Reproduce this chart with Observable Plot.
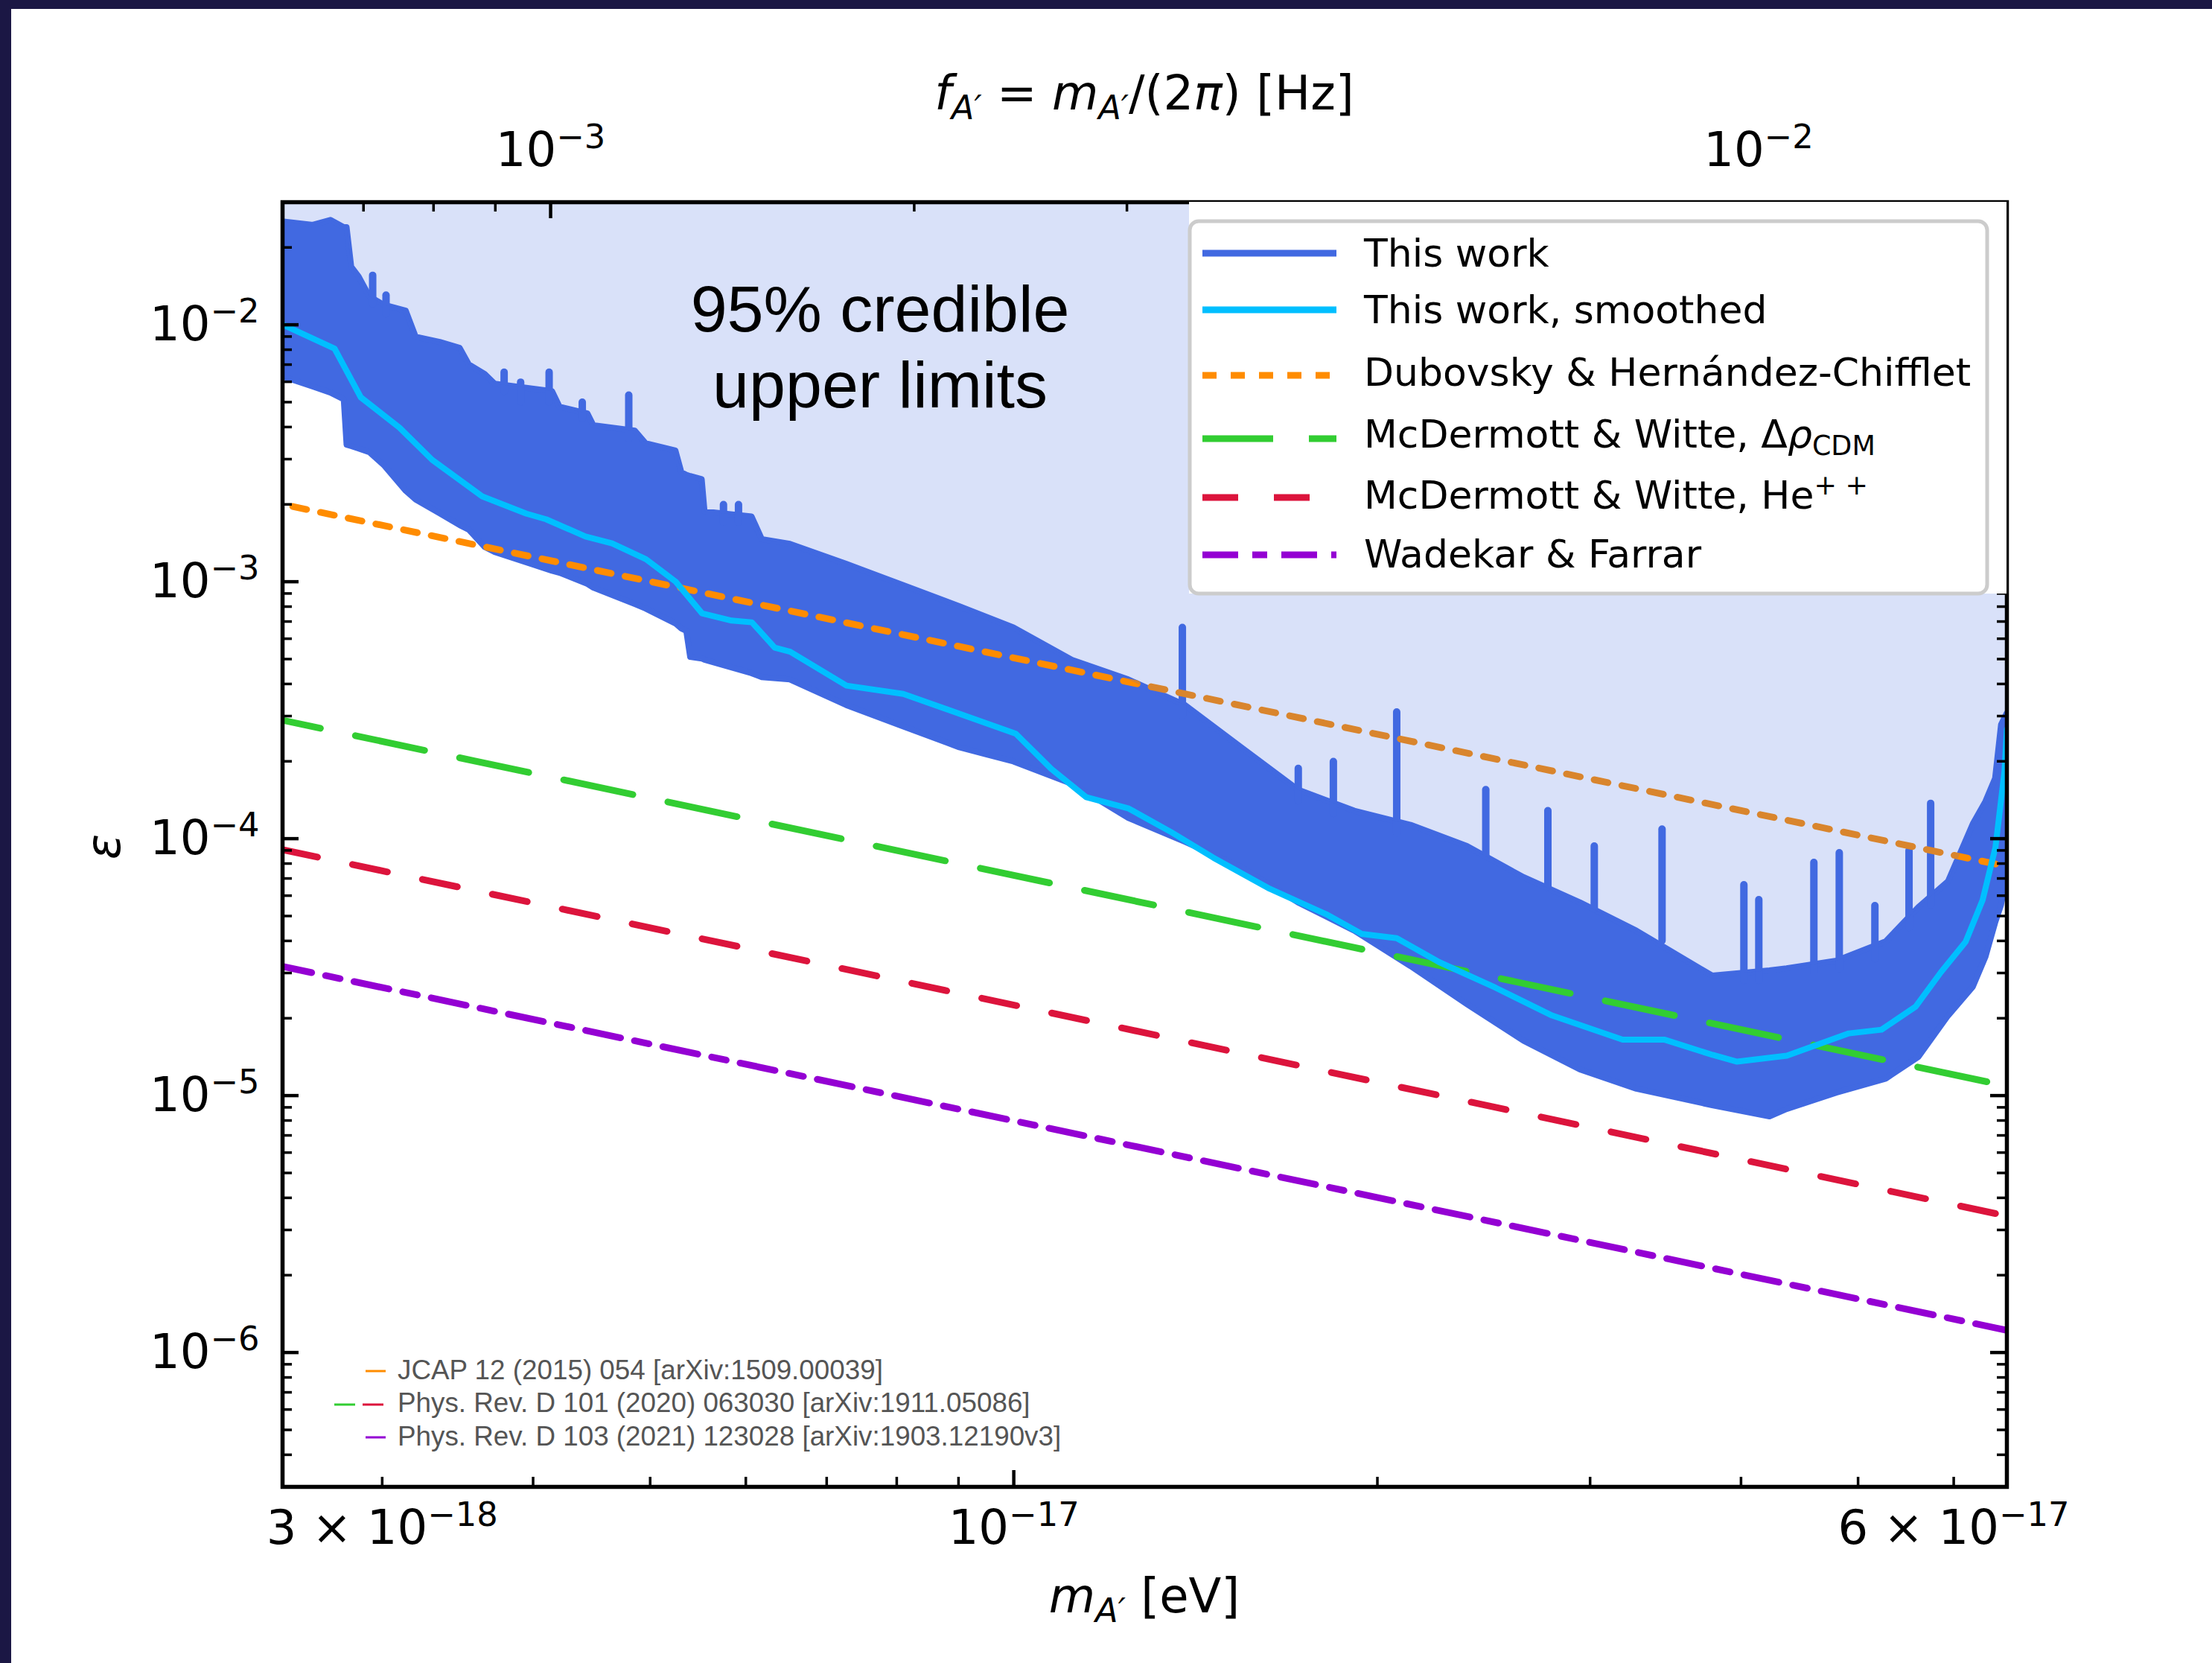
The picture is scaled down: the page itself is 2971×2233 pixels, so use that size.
<!DOCTYPE html>
<html><head><meta charset="utf-8">
<script src="https://cdn.jsdelivr.net/npm/d3@7"></script>
<script src="https://cdn.jsdelivr.net/npm/@observablehq/plot@0.6"></script>
<style>
html,body{margin:0;padding:0;background:#fff;overflow:hidden;}
#page{position:relative;width:2971px;height:2233px;overflow:hidden;background:#fff;}
#chart{position:absolute;left:0;top:0;width:2971px;height:2233px;}
#bt{position:absolute;left:0;top:0;width:2971px;height:12px;background:#1b1744;}
#bl{position:absolute;left:0;top:0;width:15px;height:2233px;background:#1b1744;}
</style></head><body>
<div id="page"><div id="chart"></div><div id="bt"></div><div id="bl"></div></div>
<script>
// ---------- data ----------
const h = 4.135667e-15; // eV·s : m = h·f
const xDomain = [2.481e-18, 6.64e-17];
const yDomain = [3e-7, 3e-2];

// "This work" band: envelope of the noisy limit curve
const bandMass = [2.48e-18, 2.63e-18, 2.72e-18, 2.79e-18, 2.805e-18, 2.83e-18, 2.87e-18, 2.93e-18, 3.01e-18, 3.14e-18,
  3.20e-18, 3.35e-18, 3.48e-18, 3.54e-18, 3.65e-18, 3.72e-18, 4.15e-18, 4.21e-18, 4.44e-18, 4.49e-18,
  4.86e-18, 4.96e-18, 5.25e-18, 5.31e-18, 5.36e-18, 5.40e-18, 5.52e-18, 5.55e-18, 6.07e-18, 6.19e-18,
  6.53e-18, 7.27e-18, 8.10e-18, 9.02e-18, 1.0e-17, 1.118e-17, 1.245e-17, 1.387e-17, 1.544e-17, 1.72e-17,
  1.915e-17, 2.132e-17, 2.374e-17, 2.644e-17, 2.944e-17, 3.279e-17, 3.789e-17, 4.226e-17, 4.366e-17, 4.8e-17,
  5.274e-17, 5.613e-17, 5.94e-17, 6.226e-17, 6.378e-17, 6.497e-17, 6.571e-17, 6.64e-17];
const bandUpper = [0.0252, 0.0244, 0.0255, 0.0239, 0.0239, 0.01677, 0.01538, 0.01285, 0.01193, 0.01131,
  0.00896, 0.00855, 0.0081, 0.0070, 0.00641, 0.00588, 0.0055, 0.00478, 0.0045, 0.00405,
  0.00386, 0.00345, 0.00323, 0.00266, 0.0026, 0.00257, 0.0025, 0.00187, 0.00179, 0.00146,
  0.0014, 0.00117, 0.000968, 0.0008, 0.000662, 0.000495, 0.000415, 0.00033, 0.000226, 0.0001547,
  0.000128, 0.0001128, 9.33e-5, 7.06e-5, 5.63e-5, 4.37e-5, 2.92e-5, 3.06e-5, 3.12e-5, 3.34e-5,
  3.97e-5, 5.4e-5, 6.81e-5, 1.138e-4, 1.391e-4, 1.711e-4, 2.767e-4, 3.06e-4];
const bandLower = [0.00629, 0.00573, 0.00543, 0.00511, 0.0034, 0.00336, 0.00329, 0.00318, 0.00284, 0.00225,
  0.00208, 0.00184, 0.001655, 0.00159, 0.00136, 0.0013, 0.0011, 0.00108, 0.000977, 0.000945,
  0.000816, 0.000784, 0.000686, 0.000655, 0.000641, 0.000508, 0.000501, 0.000495, 0.000439, 0.000424,
  0.000415, 0.00033, 0.000273, 0.000226, 0.000199, 0.000163, 0.00012, 9.69e-5, 7.72e-5, 5.63e-5,
  4.37e-5, 3.18e-5, 2.26e-5, 1.63e-5, 1.26e-5, 1.06e-5, 9.14e-6, 8.27e-6, 8.84e-6, 1.023e-5,
  1.16e-5, 1.41e-5, 2.04e-5, 2.64e-5, 3.45e-5, 4.69e-5, 5.5e-5, 7.0e-5];

// narrow spikes of the limit curve
const spikeMass = [2.946e-18, 3.022e-18, 3.785e-18, 3.906e-18, 4.124e-18, 4.393e-18, 4.8e-18, 5.75e-18, 5.917e-18,
  1.379e-17, 1.72e-17, 1.839e-17, 2.075e-17, 2.459e-17, 2.768e-17, 3.024e-17, 3.441e-17,
  4.022e-17, 4.138e-17, 4.596e-17, 4.824e-17, 5.163e-17, 5.51e-17, 5.742e-17];
const spikeTip = [0.01553, 0.013, 0.00652, 0.00596, 0.00652, 0.00498, 0.00531, 0.00199, 0.00199,
  6.62e-4, 1.87e-4, 1.99e-4, 3.1e-4, 1.547e-4, 1.28e-4, 9.33e-5, 1.086e-4,
  6.59e-5, 5.77e-5, 8.05e-5, 8.78e-5, 5.47e-5, 8.96e-5, 1.368e-4];
const spikeBase = [0.012, 0.011, 0.0055, 0.005, 0.005, 0.0043, 0.0036, 0.0017, 0.0017,
  3.0e-4, 1.4e-4, 1.25e-4, 1.05e-4, 8.5e-5, 6.5e-5, 5.3e-5, 4.0e-5,
  2.8e-5, 2.8e-5, 3e-5, 3.1e-5, 3.4e-5, 4.5e-5, 5.5e-5];

// "This work, smoothed"
const smoothMass = [2.48e-18, 2.74e-18, 2.88e-18, 3.10e-18, 3.30e-18, 3.63e-18, 3.95e-18, 4.10e-18, 4.42e-18, 4.65e-18,
  4.96e-18, 5.25e-18, 5.52e-18, 5.84e-18, 6.07e-18, 6.34e-18, 6.53e-18, 7.27e-18, 8.10e-18, 9.02e-18,
  1.004e-17, 1.074e-17, 1.148e-17, 1.245e-17, 1.35e-17, 1.463e-17, 1.629e-17, 1.814e-17, 1.941e-17, 2.075e-17,
  2.249e-17, 2.505e-17, 2.79e-17, 3.192e-17, 3.459e-17, 3.789e-17, 3.97e-17, 4.366e-17, 4.913e-17, 5.228e-17,
  5.58e-17, 5.855e-17, 6.138e-17, 6.34e-17, 6.497e-17, 6.61e-17, 6.64e-17];
const smoothEps = [0.01003, 0.00807, 0.00522, 0.00398, 0.00298, 0.00215, 0.00184, 0.00175, 0.0015, 0.00141,
  0.001224, 0.001, 0.000753, 0.000706, 0.000695, 0.000554, 0.000534, 0.000394, 0.000366, 0.000306,
  0.000256, 0.000187, 0.000145, 0.000131, 0.000106, 8.43e-5, 6.38e-5, 5.08e-5, 4.26e-5, 4.1e-5,
  3.31e-5, 2.63e-5, 2.05e-5, 1.65e-5, 1.65e-5, 1.44e-5, 1.355e-5, 1.43e-5, 1.746e-5, 1.805e-5,
  2.22e-5, 3.02e-5, 3.97e-5, 5.77e-5, 9.26e-5, 1.83e-4, 2.66e-4];

// earlier bounds (power laws, endpoints at the frame edges)
const refMass = [2.481e-18, 6.64e-17];
const dubovskyEps = [2.0e-3, 7.8e-5];
const mcdRhoEps = [2.89e-4, 1.09e-5];
const mcdHeEps = [9.06e-5, 3.4e-6];
const wadekarEps = [3.18e-5, 1.22e-6];

// axis ticks
const topMajorHz = [1e-3, 1e-2];
const topMinorHz = [7e-4, 8e-4, 9e-4, 2e-3, 3e-3, 4e-3, 5e-3, 6e-3, 7e-3, 8e-3, 9e-3];
const topLabels = ["10^{−3}", "10^{−2}"];
const bottomMajor = [1e-17];
const bottomMinor = [3e-18, 4e-18, 5e-18, 6e-18, 7e-18, 8e-18, 9e-18, 2e-17, 3e-17, 4e-17, 5e-17, 6e-17];
const bottomLabelTicks = [3e-18, 1e-17, 6e-17];
const bottomLabels = ["3 × 10^{−18}", "10^{−17}", "6 × 10^{−17}"];
const yMajor = [1e-6, 1e-5, 1e-4, 1e-3, 1e-2];
const yLabels = ["10^{−6}", "10^{−5}", "10^{−4}", "10^{−3}", "10^{−2}"];
const yMinor = [4e-7, 5e-7, 6e-7, 7e-7, 8e-7, 9e-7,
  2e-6, 3e-6, 4e-6, 5e-6, 6e-6, 7e-6, 8e-6, 9e-6,
  2e-5, 3e-5, 4e-5, 5e-5, 6e-5, 7e-5, 8e-5, 9e-5,
  2e-4, 3e-4, 4e-4, 5e-4, 6e-4, 7e-4, 8e-4, 9e-4,
  2e-3, 3e-3, 4e-3, 5e-3, 6e-3, 7e-3, 8e-3, 9e-3, 2e-2];

const legendLabels = ["This work", "This work, smoothed", "Dubovsky & Hernández-Chifflet",
  "McDermott & Witte, Δρ_CDM", "McDermott & Witte, He^++", "Wadekar & Farrar"];
const noteLines = ["JCAP 12 (2015) 054 [arXiv:1509.00039]", "Phys. Rev. D 101 (2020) 063030 [arXiv:1911.05086]",
  "Phys. Rev. D 103 (2021) 123028 [arXiv:1903.12190v3]"];

(function () {
// ---------- tables ----------
const band = bandMass.map((m, i) => ({m, lo: bandLower[i], hi: bandUpper[i]}));
const spikes = spikeMass.map((m, i) => ({m, tip: spikeTip[i], base: spikeBase[i]}));
const smooth = smoothMass.map((m, i) => ({m, e: smoothEps[i]}));
const refs = refMass.map((m, i) => ({m, dub: dubovskyEps[i], rho: mcdRhoEps[i], he: mcdHeEps[i], wf: wadekarEps[i]}));
const topMajorM = topMajorHz.map(f => f * h);
const topMinorM = topMinorHz.map(f => f * h);

const BLUE = "#4169e1", CYAN = "#00bfff", ORANGE = "#ff8c00", GREEN = "#32cd32", RED = "#dc143c", PURPLE = "#9400d3";
const W = 2971, H = 2233, ML = 379, MR = 276, MT = 271, MB = 237;
const FW = W - ML - MR, FH = H - MT - MB;

const chart = Plot.plot({
  width: W, height: H, marginLeft: ML, marginRight: MR, marginTop: MT, marginBottom: MB,
  x: {type: "log", domain: xDomain},
  y: {type: "log", domain: yDomain},
  style: {fontFamily: "DejaVu Sans", fontSize: "64px", color: "#000", background: "transparent", overflow: "visible"},
  marks: [
    Plot.areaY(band, {x: "m", y1: "lo", y2: "hi", fill: BLUE, stroke: BLUE, strokeWidth: 8, strokeLinejoin: "round", clip: true}),
    Plot.ruleX(spikes, {x: "m", y1: "base", y2: "tip", stroke: BLUE, strokeWidth: 10, strokeLinecap: "round", clip: true}),
    Plot.line(refs, {x: "m", y: "dub", stroke: ORANGE, strokeWidth: 9, strokeDasharray: "19,19", strokeDashoffset: 24, clip: true}),
    Plot.areaY(band, {x: "m", y1: "hi", y2: yDomain[1], fill: BLUE, fillOpacity: 0.2, clip: true}),
    Plot.line(refs, {x: "m", y: "rho", stroke: GREEN, strokeWidth: 9, strokeDasharray: "95,48", strokeDashoffset: 43, clip: true}),
    Plot.line(refs, {x: "m", y: "he", stroke: RED, strokeWidth: 9, strokeDasharray: "48,48", clip: true}),
    Plot.line(refs, {x: "m", y: "wf", stroke: PURPLE, strokeWidth: 9, strokeDasharray: "48,19,20,19", strokeDashoffset: 8, clip: true}),
    Plot.line(smooth, {x: "m", y: "e", stroke: CYAN, strokeWidth: 8, strokeLinejoin: "round", clip: true}),
    Plot.text([{m: 7.75e-18, e: 0.00832}], {x: "m", y: "e", text: () => "95% credible\nupper limits",
      fontFamily: "Liberation Sans, Arial, sans-serif", fontSize: 88, lineHeight: 1.16, textAnchor: "middle", fill: "#000"}),
    // inward ticks
    Plot.tickX(bottomMinor, {x: d => d, insetTop: FH - 13, stroke: "#000", strokeWidth: 3.5, ariaLabel: "ticks-anchor"}),
    Plot.tickX(bottomMajor, {x: d => d, insetTop: FH - 22, stroke: "#000", strokeWidth: 4.5}),
    Plot.tickX(topMinorM, {x: d => d, insetBottom: FH - 13, stroke: "#000", strokeWidth: 3.5}),
    Plot.tickX(topMajorM, {x: d => d, insetBottom: FH - 22, stroke: "#000", strokeWidth: 4.5}),
    Plot.tickY(yMinor, {y: d => d, insetRight: FW - 13, stroke: "#000", strokeWidth: 3.5}),
    Plot.tickY(yMinor, {y: d => d, insetLeft: FW - 13, stroke: "#000", strokeWidth: 3.5}),
    Plot.tickY(yMajor, {y: d => d, insetRight: FW - 22, stroke: "#000", strokeWidth: 4.5}),
    Plot.tickY(yMajor, {y: d => d, insetLeft: FW - 22, stroke: "#000", strokeWidth: 4.5}),
    Plot.frame({stroke: "#000", strokeWidth: 5.5}),
    // tick labels
    Plot.axisX(bottomLabelTicks, {anchor: "bottom", tickSize: 0, tickPadding: 31, label: null,
      tickFormat: d => bottomLabels[bottomLabelTicks.indexOf(d)]}),
    Plot.axisX(topMajorM, {anchor: "top", tickSize: 0, tickPadding: 49, label: null,
      tickFormat: d => topLabels[topMajorM.indexOf(d)]}),
    Plot.axisY(yMajor, {anchor: "left", tickSize: 0, tickPadding: 31, label: null,
      tickFormat: d => yLabels[yMajor.indexOf(d)]})
  ]
});
document.getElementById("chart").appendChild(chart);
const svg = chart;
const NS = "http://www.w3.org/2000/svg";
function el(name, attrs, parent) {
  const e = document.createElementNS(NS, name);
  for (const k in attrs) e.setAttribute(k, attrs[k]);
  if (parent) parent.appendChild(e);
  return e;
}
// superscripts in tick labels
svg.querySelectorAll("text").forEach(t => {
  const s = t.textContent;
  const mm = s.match(/^(.*)\^\{(.*)\}$/);
  if (mm) {
    t.textContent = "";
    el("tspan", {}, t).textContent = mm[1];
    el("tspan", {"font-size": "44.8", dy: "-24"}, t).textContent = mm[2];
  }
});
// rich text helper
function rich(parent, attrs, parts, base) {
  const text = el("text", attrs, parent);
  let off = 0;
  for (const p of parts) {
    const target = p.sub ? 0.2 * base : p.sup ? -0.375 * base : 0;
    const a = {};
    if (target !== off) { a.dy = (target - off).toFixed(1); off = target; }
    if (p.sub || p.sup) a["font-size"] = (0.7 * base).toFixed(1);
    if (p.it) a["font-style"] = "italic";
    el("tspan", a, text).textContent = p.t;
  }
  return text;
}
const titles = el("g", {"font-family": "DejaVu Sans", fill: "#000"}, svg);
rich(titles, {x: ML + FW / 2, y: 2165, "text-anchor": "middle", "font-size": 64},
  [{t: "m", it: true}, {t: "A′", it: true, sub: true}, {t: " [eV]"}], 64);
rich(titles, {x: ML + FW / 2, y: 147, "text-anchor": "middle", "font-size": 64},
  [{t: "f", it: true}, {t: "A′", it: true, sub: true}, {t: " = "}, {t: "m", it: true}, {t: "A′", it: true, sub: true},
   {t: "/(2"}, {t: "π", it: true}, {t: ") [Hz]"}], 64);
rich(titles, {transform: "translate(161,1137) rotate(-90)", "text-anchor": "middle", "font-size": 64},
  [{t: "ε", it: true}], 64);

// legend (inserted beneath the ticks and frame)
const anchorG = svg.querySelector('[aria-label="ticks-anchor"]');
const lg = document.createElementNS(NS, "g");
svg.insertBefore(lg, anchorG);
el("rect", {x: 1597, y: MT, width: ML + FW - 1597, height: 797 - MT, fill: "#fff"}, lg);
el("rect", {x: 1598, y: 297, width: 1071, height: 500, rx: 12, fill: "#fff", stroke: "#cccccc", "stroke-width": 5}, lg);
const lineYs = [340, 416, 504, 589, 668, 745];
const textYs = [358, 434, 518, 601, 683, 762];
const sw = [
  {stroke: BLUE}, {stroke: CYAN}, {stroke: ORANGE, "stroke-dasharray": "19,19"},
  {stroke: GREEN, "stroke-dasharray": "95,48"}, {stroke: RED, "stroke-dasharray": "48,48"},
  {stroke: PURPLE, "stroke-dasharray": "48,19,20,19"}];
const lgText = el("g", {"font-family": "DejaVu Sans", "font-size": 52, fill: "#000", "text-anchor": "start"}, lg);
legendLabels.forEach((lab, i) => {
  el("line", Object.assign({x1: 1615, x2: 1795, y1: lineYs[i], y2: lineYs[i], "stroke-width": 9}, sw[i]), lg);
  let parts;
  if (lab.includes("_CDM")) parts = [{t: "McDermott & Witte, Δ"}, {t: "ρ", it: true}, {t: "CDM", sub: true}];
  else if (lab.includes("^++")) parts = [{t: "McDermott & Witte, He"}, {t: "+ +", sup: true}];
  else parts = [{t: lab}];
  rich(lgText, {x: 1832, y: textYs[i], "text-anchor": "start"}, parts, 52);
});

// reference notes
const notes = el("g", {"font-family": "Liberation Sans, Arial, sans-serif", "font-size": 36.8, fill: "#555", "text-anchor": "start"}, svg);
const noteYs = [1852, 1896, 1941];
noteLines.forEach((s, i) => { el("text", {x: 534, y: noteYs[i], "text-anchor": "start"}, notes).textContent = s; });
el("line", {x1: 491, x2: 518, y1: 1841, y2: 1841, stroke: ORANGE, "stroke-width": 3}, notes);
el("line", {x1: 449, x2: 477, y1: 1886, y2: 1886, stroke: GREEN, "stroke-width": 3}, notes);
el("line", {x1: 487, x2: 515, y1: 1886, y2: 1886, stroke: RED, "stroke-width": 3}, notes);
el("line", {x1: 491, x2: 518, y1: 1930, y2: 1930, stroke: PURPLE, "stroke-width": 3}, notes);
})();
</script></body></html>
